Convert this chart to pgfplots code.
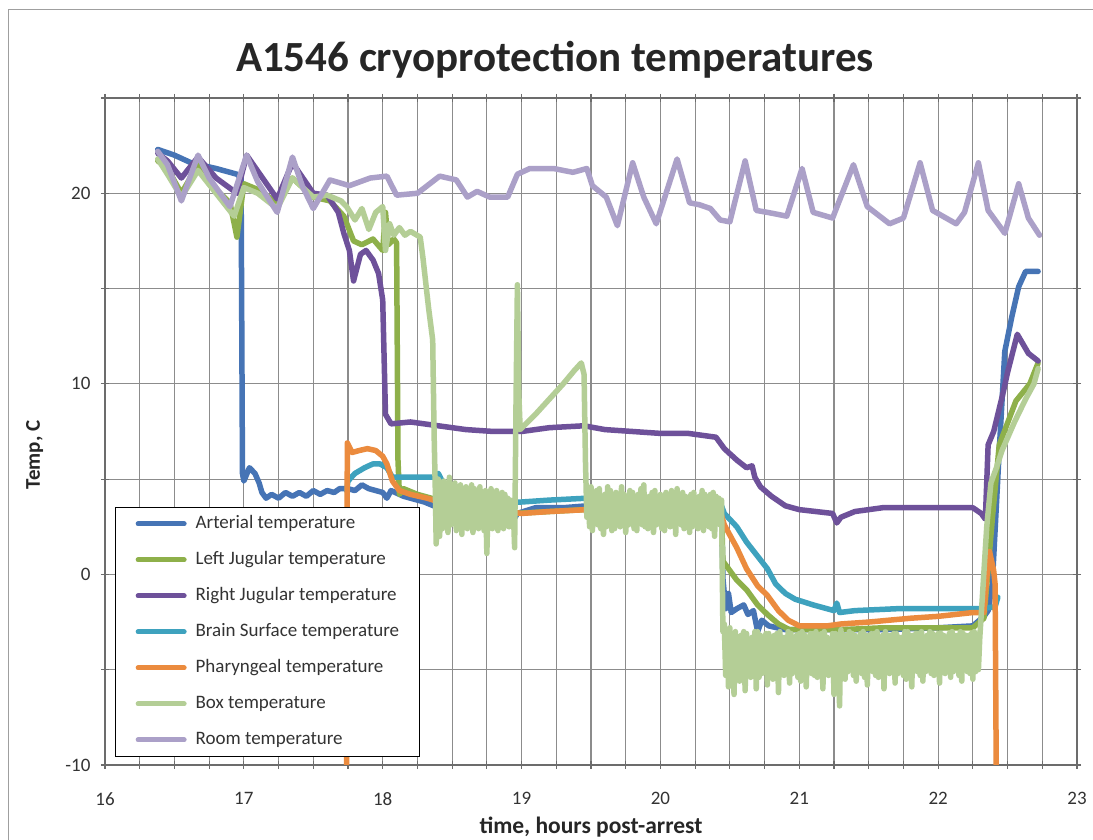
\documentclass[border=0pt]{standalone}
\usepackage{fontspec}
\setmainfont{Carlito}
\usepackage{pgfplots}
\pgfplotsset{compat=1.18}
\definecolor{cArt}{HTML}{4674B5}
\definecolor{cLJ}{HTML}{8EB04A}
\definecolor{cRJ}{HTML}{6E519A}
\definecolor{cBS}{HTML}{3EA2BE}
\definecolor{cPh}{HTML}{EB8B3E}
\definecolor{cBox}{HTML}{B4CE96}
\definecolor{cRoom}{HTML}{ABA0C8}
\definecolor{gridc}{HTML}{8C8C8C}
\begin{document}
\begin{tikzpicture}
\path[use as bounding box] (-105pt,-75pt) rectangle (988pt,765pt);
\fill[white] (-105pt,-75pt) rectangle (988pt,765pt);
\draw[gray!75, line width=1pt] (-96pt,-95pt) rectangle (1000pt,755pt);
\begin{axis}[
  at={(0,0)}, anchor=south west,
  scale only axis, width=972pt, height=667pt,
  xmin=16, xmax=23, ymin=-10, ymax=25,
  xtick={16,17,18,19,20,21,22,23},
  minor xtick={16.25,16.5,16.75,17.25,17.5,17.75,18.25,18.5,18.75,19.25,19.5,19.75,20.25,20.5,20.75,21.25,21.5,21.75,22.25,22.5,22.75},
  ytick={-10,-5,0,5,10,15,20,25}, yticklabels={-10,,0,,10,,20,},
  grid=both,
  major grid style={gridc, line width=1.2pt},
  minor grid style={gridc, line width=1.2pt},
  axis line style={draw=gray!85!black, line width=1.2pt},
  tick style={gray!85!black, line width=1.2pt},
  major tick length=8pt, minor tick length=8pt,
  tick align=center,
  /pgf/number format/assume math mode=true,
  ticklabel style={font=\fontsize{19}{22}\selectfont, text=black!80},
  yticklabel style={xshift=-7pt},
  xticklabel style={yshift=-20pt},
  clip mode=individual,
  legend cell align=left,
  legend style={at={(0.0103,0.012)}, anchor=south west, draw=black, line width=1.3pt, fill=white,
    font=\fontsize{19}{22}\selectfont, inner xsep=20pt, inner ysep=8pt, row sep=19pt, column sep=9pt,
    nodes={inner sep=0pt, text height=13pt, text depth=4pt, text=black!80}},
  legend image code/.code={\draw[#1, line width=5pt] (0pt,0pt) -- (46pt,0pt);},
  every axis plot/.append style={line width=5.5pt, line join=round, line cap=round},
]
% Arterial
\addplot[cArt] table {
16.38 22.3
16.50 22.0
16.62 21.6
16.80 21.3
16.95 21.0
16.98 20.8
16.99 5.3
17.00 4.9
17.04 5.6
17.08 5.3
17.11 4.8
17.13 4.3
17.16 4.0
17.20 4.2
17.25 4.0
17.30 4.3
17.35 4.1
17.40 4.3
17.45 4.1
17.50 4.4
17.55 4.2
17.60 4.4
17.65 4.3
17.69 4.5
17.75 4.5
17.80 4.4
17.85 4.7
17.90 4.5
17.95 4.4
18.00 4.3
18.03 4.0
18.06 4.4
18.15 4.1
18.30 3.8
18.50 3.2
18.60 2.8
18.75 2.7
18.92 2.6
18.97 3.2
19.10 3.5
19.30 3.5
19.47 3.6
20.00 3.5
20.44 3.4
20.45 -0.2
20.47 -1.8
20.49 -1.0
20.51 -2.0
20.55 -1.8
20.60 -1.6
20.63 -2.1
20.67 -1.9
20.70 -3.0
20.73 -2.4
20.78 -2.7
20.90 -2.9
21.20 -2.9
21.60 -2.9
22.00 -2.8
22.25 -2.7
22.33 -2.2
22.36 -1.9
22.39 -0.5
22.44 6.5
22.48 11.7
22.53 13.5
22.58 15.1
22.63 15.9
22.72 15.9
};
\addlegendentry{Arterial temperature}
% Left jugular
\addplot[cLJ] table {
16.38 21.7
16.45 21.3
16.55 20.0
16.67 21.5
16.80 20.2
16.90 19.5
16.95 17.7
17.00 20.5
17.10 20.2
17.24 19.5
17.35 20.8
17.50 19.8
17.62 19.6
17.72 18.8
17.79 17.5
17.85 17.3
17.93 17.6
18.00 17.0
18.02 19.0
18.04 17.3
18.08 17.6
18.10 17.4
18.11 6.0
18.12 4.2
18.15 4.5
18.25 4.2
18.35 4.0
18.50 3.6
18.70 3.3
18.95 3.2
19.20 3.3
19.45 3.4
19.80 3.4
20.20 3.3
20.44 3.2
20.45 0.7
20.55 -0.3
20.62 -0.8
20.70 -1.6
20.77 -2.1
20.85 -2.6
20.93 -2.9
21.10 -2.9
21.30 -2.9
21.60 -2.8
22.00 -2.8
22.25 -2.8
22.33 -2.3
22.39 2.9
22.44 6.8
22.56 9.1
22.66 10.0
22.72 11.1
};
\addlegendentry{Left Jugular temperature}
% Right jugular
\addplot[cRJ] table {
16.38 22.1
16.45 21.7
16.55 20.8
16.67 21.9
16.80 20.8
16.95 20.0
17.02 22.0
17.24 19.7
17.35 21.6
17.50 20.0
17.60 19.9
17.68 19.0
17.72 17.9
17.76 17.0
17.79 15.4
17.84 16.8
17.88 17.0
17.93 16.5
17.97 15.8
18.00 14.4
18.02 8.4
18.06 7.9
18.20 8.0
18.40 7.8
18.60 7.6
18.80 7.5
19.00 7.5
19.20 7.7
19.45 7.8
19.60 7.6
19.80 7.5
20.00 7.4
20.20 7.4
20.40 7.2
20.46 6.6
20.55 6.0
20.62 5.6
20.66 5.7
20.68 5.1
20.72 4.6
20.80 4.1
20.90 3.6
21.00 3.4
21.24 3.2
21.27 2.7
21.30 3.0
21.40 3.3
21.60 3.5
21.90 3.5
22.10 3.5
22.25 3.5
22.31 3.2
22.34 2.9
22.36 6.8
22.40 7.5
22.47 9.6
22.50 10.6
22.57 12.6
22.65 11.6
22.72 11.2
};
\addlegendentry{Right Jugular temperature}
% Brain surface
\addplot[cBS] table {
17.74 4.4
17.75 4.9
17.80 5.3
17.87 5.6
17.93 5.8
17.98 5.8
18.03 5.6
18.07 5.1
18.20 5.1
18.36 5.1
18.40 5.3
18.45 4.6
18.60 4.0
18.90 3.8
19.00 3.8
19.20 3.9
19.47 4.0
20.00 3.8
20.44 3.6
20.46 3.2
20.55 2.5
20.62 1.7
20.77 0.3
20.83 -0.5
20.90 -1.0
20.97 -1.3
21.10 -1.6
21.25 -1.9
21.27 -1.5
21.29 -2.0
21.40 -1.9
21.70 -1.8
22.00 -1.8
22.30 -1.8
22.41 -1.7
22.43 -1.2
};
\addlegendentry{Brain Surface temperature}
% Pharyngeal
\addplot[cPh] table {
17.74 -12
17.745 6.9
17.78 6.4
17.83 6.5
17.89 6.6
17.95 6.5
18.00 6.2
18.03 5.8
18.07 4.9
18.12 4.4
18.20 4.2
18.32 4.0
18.50 3.6
18.90 3.3
19.00 3.2
19.20 3.3
19.47 3.4
20.00 3.3
20.44 3.1
20.46 2.6
20.55 1.4
20.62 0.3
20.70 -0.6
20.77 -1.1
20.85 -1.9
20.92 -2.4
21.00 -2.7
21.20 -2.7
21.30 -2.6
21.50 -2.5
21.80 -2.3
22.00 -2.2
22.25 -2.0
22.33 -2.0
22.35 -0.2
22.37 1.2
22.40 0.2
22.41 -0.5
22.42 -12
};
\addlegendentry{Pharyngeal temperature}
% Box
\addplot[cBox] table {
16.38 21.8
16.45 21.0
16.55 19.8
16.67 21.2
16.80 20.0
16.93 18.8
17.00 20.3
17.10 20.0
17.24 19.2
17.35 20.8
17.50 19.8
17.60 19.9
17.70 19.6
17.74 19.3
17.80 18.6
17.85 19.2
17.90 18.1
17.95 19.0
18.00 19.3
18.02 17.0
18.05 18.4
18.08 17.8
18.12 18.2
18.16 17.8
18.20 18.0
18.27 17.7
18.29 16.6
18.33 14.0
18.36 12.3
18.37 7.4
18.38 4.0
18.385 1.6
18.40 5.0
18.41 2.0
18.42 4.6
18.43 2.4
18.44 4.9
18.45 2.8
18.46 4.4
18.47 2.2
18.48 5.1
18.49 2.6
18.50 4.5
18.51 3.0
18.52 4.8
18.53 2.3
18.54 4.2
18.55 2.7
18.56 4.7
18.57 2.1
18.58 4.4
18.59 2.9
18.60 4.6
18.61 2.4
18.62 4.3
18.63 2.6
18.64 4.7
18.65 2.2
18.66 4.5
18.67 2.8
18.68 4.1
18.69 2.4
18.70 4.6
18.71 2.5
18.72 4.3
18.73 2.3
18.74 4.4
18.75 1.1
18.76 4.2
18.77 2.6
18.78 4.5
18.79 2.4
18.80 4.2
18.81 2.7
18.82 4.4
18.83 2.3
18.84 4.1
18.85 2.6
18.86 4.3
18.87 2.4
18.88 4.2
18.89 2.8
18.90 4.0
18.91 2.5
18.92 3.9
18.93 2.6
18.94 3.5
18.95 1.4
18.96 9.0
18.97 15.2
18.98 9.5
18.99 7.6
19.10 8.4
19.20 9.2
19.30 10.0
19.38 10.7
19.43 11.1
19.45 10.5
19.46 6.0
19.47 3.0
19.48 4.3
19.49 2.5
19.50 4.6
19.51 2.3
19.52 4.0
19.53 2.8
19.54 4.4
19.55 2.6
19.56 4.5
19.57 2.4
19.58 4.1
19.59 2.1
19.60 4.2
19.61 2.5
19.62 4.6
19.63 2.7
19.64 4.4
19.65 2.3
19.66 4.0
19.67 2.4
19.68 4.3
19.69 2.6
19.70 4.1
19.71 2.5
19.72 4.6
19.73 2.9
19.74 4.2
19.75 2.2
19.76 4.0
19.77 2.6
19.78 4.4
19.79 2.8
19.80 4.3
19.81 2.4
19.82 4.1
19.83 2.3
19.84 4.2
19.85 2.7
19.86 4.5
19.87 2.6
19.88 4.7
19.89 2.5
19.90 4.0
19.91 2.4
19.92 4.1
19.93 2.8
19.94 4.3
19.95 2.2
19.96 4.4
19.97 2.6
19.98 4.0
19.99 2.7
20.00 4.2
20.01 2.4
20.02 4.0
20.03 2.3
20.04 4.3
20.05 2.7
20.06 4.1
20.07 2.5
20.08 4.4
20.09 2.6
20.10 4.0
20.11 2.1
20.12 4.5
20.13 2.8
20.14 4.2
20.15 2.6
20.16 4.3
20.17 2.4
20.18 4.1
20.19 2.7
20.20 4.0
20.21 2.2
20.22 4.2
20.23 2.5
20.24 4.3
20.25 2.7
20.26 4.0
20.27 2.4
20.28 4.1
20.29 2.6
20.30 4.4
20.31 2.3
20.32 4.2
20.33 2.8
20.34 4.0
20.35 2.5
20.36 4.2
20.37 2.4
20.38 4.3
20.39 2.0
20.40 4.1
20.41 2.7
20.42 4.0
20.43 2.6
20.44 3.9
20.45 -3.0
20.46 -2.6
20.47 -5.3
20.48 -3.0
20.49 -5.9
20.50 -2.8
20.51 -5.5
20.52 -3.1
20.53 -6.3
20.54 -3.0
20.55 -5.2
20.56 -3.3
20.57 -5.6
20.58 -3.2
20.59 -5.0
20.60 -3.0
20.61 -6.1
20.62 -3.1
20.63 -5.3
20.64 -3.4
20.65 -5.4
20.66 -3.3
20.67 -5.1
20.68 -3.0
20.69 -6.0
20.70 -3.0
20.71 -5.4
20.72 -3.2
20.73 -5.2
20.74 -3.4
20.75 -5.0
20.76 -3.1
20.77 -5.8
20.78 -3.1
20.79 -5.3
20.80 -3.3
20.81 -5.5
20.82 -3.2
20.83 -5.0
20.84 -3.1
20.85 -6.2
20.86 -3.0
20.87 -5.1
20.88 -3.3
20.89 -5.3
20.90 -3.3
20.91 -4.9
20.92 -3.0
20.93 -5.7
20.94 -3.1
20.95 -5.2
20.96 -3.4
20.97 -5.0
20.98 -3.2
20.99 -5.4
21.00 -3.1
21.01 -5.6
21.02 -3.0
21.03 -5.1
21.04 -3.2
21.05 -5.9
21.06 -3.3
21.07 -5.0
21.08 -3.1
21.09 -5.2
21.10 -3.1
21.11 -5.3
21.12 -3.0
21.13 -5.4
21.14 -3.2
21.15 -4.9
21.16 -3.1
21.17 -6.0
21.18 -3.0
21.19 -5.1
21.20 -3.3
21.21 -5.3
21.22 -3.4
21.23 -5.0
21.24 -3.1
21.25 -6.3
21.26 -3.1
21.27 -5.2
21.28 -3.3
21.29 -6.9
21.30 -2.9
21.31 -5.0
21.32 -3.2
21.33 -5.5
21.34 -3.2
21.35 -5.1
21.36 -3.0
21.37 -5.0
21.38 -3.1
21.39 -5.3
21.40 -3.2
21.41 -5.6
21.42 -3.3
21.43 -5.0
21.44 -3.1
21.45 -5.2
21.46 -3.0
21.47 -5.4
21.48 -3.2
21.49 -5.8
21.50 -3.2
21.51 -5.0
21.52 -3.1
21.53 -5.1
21.54 -3.1
21.55 -5.3
21.56 -3.0
21.57 -5.4
21.58 -3.3
21.59 -5.0
21.60 -3.2
21.61 -6.0
21.62 -3.0
21.63 -5.1
21.64 -3.2
21.65 -5.2
21.66 -3.2
21.67 -5.0
21.68 -3.1
21.69 -5.7
21.70 -3.1
21.71 -5.2
21.72 -3.3
21.73 -5.0
21.74 -3.3
21.75 -5.3
21.76 -3.0
21.77 -5.5
21.78 -3.0
21.79 -5.1
21.80 -3.2
21.81 -5.9
21.82 -3.2
21.83 -5.0
21.84 -3.1
21.85 -5.1
21.86 -3.1
21.87 -5.3
21.88 -3.0
21.89 -5.6
21.90 -3.3
21.91 -5.1
21.92 -3.2
21.93 -5.0
21.94 -3.0
21.95 -5.2
21.96 -3.1
21.97 -5.3
21.98 -3.2
21.99 -5.0
22.00 -3.1
22.01 -5.7
22.02 -3.1
22.03 -5.1
22.04 -3.2
22.05 -5.2
22.06 -3.3
22.07 -5.0
22.08 -3.1
22.09 -5.4
22.10 -3.0
22.11 -5.1
22.12 -3.2
22.13 -5.0
22.14 -3.2
22.15 -5.3
22.16 -3.0
22.17 -5.6
22.18 -3.1
22.19 -5.0
22.20 -3.2
22.21 -5.1
22.22 -3.2
22.23 -5.2
22.24 -3.1
22.25 -5.5
22.26 -3.0
22.27 -5.1
22.28 -3.2
22.29 -5.0
22.30 -3.3
22.32 -1.0
22.35 2.5
22.38 4.8
22.42 5.6
22.46 6.5
22.55 8.0
22.63 9.2
22.69 10.0
22.72 10.8
};
\addlegendentry{Box temperature}
% Room
\addplot[cRoom] table {
16.38 22.2
16.45 21.5
16.55 19.6
16.62 21.0
16.67 22.0
16.75 20.8
16.90 19.3
17.02 22.0
17.10 20.6
17.24 19.0
17.35 21.9
17.42 20.4
17.50 19.2
17.62 20.7
17.76 20.4
17.91 20.8
18.03 20.9
18.10 19.9
18.25 20.0
18.41 20.9
18.53 20.7
18.61 19.8
18.68 20.1
18.77 19.8
18.90 19.8
18.97 21.0
19.06 21.3
19.23 21.3
19.37 21.1
19.47 21.3
19.51 20.4
19.61 19.8
19.69 18.3
19.80 21.6
19.88 19.8
19.97 18.4
20.12 21.8
20.21 19.5
20.28 19.4
20.36 19.2
20.43 18.6
20.50 18.5
20.61 21.7
20.69 19.1
20.77 19.0
20.91 18.8
21.02 21.3
21.10 19.0
21.24 18.7
21.39 21.5
21.49 19.3
21.65 18.4
21.75 18.7
21.87 21.6
21.96 19.1
22.13 18.4
22.19 19.0
22.29 21.6
22.36 19.1
22.48 17.9
22.58 20.5
22.65 18.7
22.73 17.8
};
\addlegendentry{Room temperature}
\node[anchor=base, font=\bfseries\fontsize{43}{50}\selectfont, text=black!85] at (axis description cs:0.463,1.039) {A1546 cryoprotection temperatures};
\node[anchor=base, font=\bfseries\fontsize{23.5}{28}\selectfont, text=black!85] at (axis description cs:0.5,-0.1034) {time, hours post-arrest};
\node[anchor=base, rotate=90, font=\bfseries\fontsize{21}{25}\selectfont, text=black!85] at (axis description cs:-0.067,0.465) {Temp, C};
\end{axis}
\end{tikzpicture}
\end{document}
